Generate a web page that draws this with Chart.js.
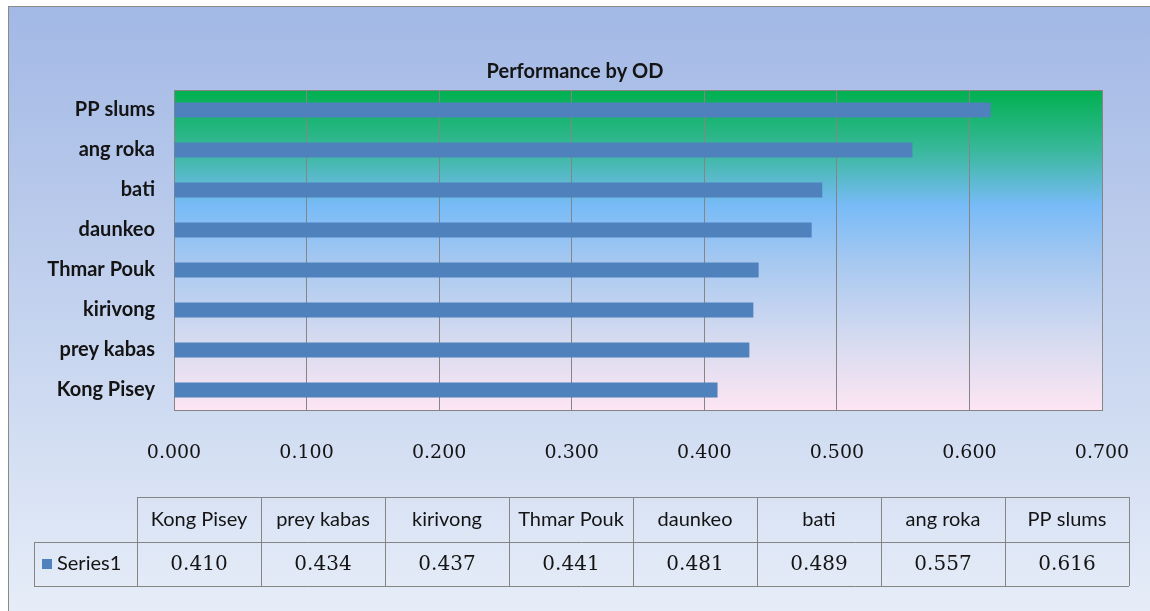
<!DOCTYPE html>
<html lang="en">
<head>
    <meta charset="UTF-8">
    <title>Performance by OD</title>
    <script src="https://cdn.jsdelivr.net/npm/chart.js@4.4.0/dist/chart.umd.min.js"></script>
    <style>
        html, body { margin: 0; padding: 0; background: #ffffff; }
        #wrap { width: 1150px; height: 611px; }
    </style>
</head>
<body>
    <div id="wrap">
        <canvas id="odChart" width="1150" height="611"></canvas>
    </div>

    <script>
        // Operational districts, in data table order (bottom to top on the chart)
        const districts = ['Kong Pisey', 'prey kabas', 'kirivong', 'Thmar Pouk', 'daunkeo', 'bati', 'ang roka', 'PP slums'];
        const series1 = [0.410, 0.434, 0.437, 0.441, 0.481, 0.489, 0.557, 0.616];
        const seriesName = 'Series1';
        const chartTitle = 'Performance by OD';
        const xTicks = [0, 0.1, 0.2, 0.3, 0.4, 0.5, 0.6, 0.7];

        const barColor = '#4f81bd';
        const lineColor = '#858585';
        const textColor = '#141414';
        const labelFont = 'Lato, "Open Sans", sans-serif';
        const numberFont = '"DejaVu Serif", serif';

        // Backgrounds: outer frame gradient and the plot area gradient
        const backgroundPlugin = {
            id: 'backgrounds',
            beforeDraw(chart) {
                const ctx = chart.ctx;
                const a = chart.chartArea;
                ctx.save();
                let g = ctx.createLinearGradient(0, 6, 0, 611);
                g.addColorStop(0, '#a2b8e5');
                g.addColorStop(0.5, '#c3d2ee');
                g.addColorStop(1, '#e6edf8');
                ctx.fillStyle = g;
                ctx.fillRect(8, 6, 1150, 620);
                ctx.strokeStyle = '#8a8a8a';
                ctx.lineWidth = 1;
                ctx.strokeRect(8.5, 6.5, 1150, 620);

                g = ctx.createLinearGradient(0, a.top, 0, a.bottom);
                g.addColorStop(0, '#00b04f');
                g.addColorStop(0.18, '#36b898');
                g.addColorStop(0.36, '#78bbf7');
                g.addColorStop(0.55, '#a9c9f0');
                g.addColorStop(0.8, '#d9dcf0');
                g.addColorStop(1, '#fde5f3');
                ctx.fillStyle = g;
                ctx.fillRect(a.left, a.top, a.right - a.left, a.bottom - a.top);
                ctx.restore();
            },
            beforeDatasetsDraw(chart) {
                const ctx = chart.ctx;
                const a = chart.chartArea;
                ctx.save();
                ctx.strokeStyle = lineColor;
                ctx.lineWidth = 1;
                ctx.strokeRect(a.left + 0.5, a.top + 0.5, a.right - a.left, a.bottom - a.top);
                ctx.restore();
            }
        };

        // Title and the data table under the axis
        const tablePlugin = {
            id: 'dataTable',
            afterDraw(chart) {
                const ctx = chart.ctx;
                ctx.save();
                ctx.fillStyle = textColor;
                ctx.textAlign = 'center';
                ctx.textBaseline = 'middle';
                ctx.font = 'bold 20px ' + labelFont;
                ctx.fillText(chartTitle, 575, 72);

                const left = 34, firstCol = 137, colW = 124;
                const top = 497, mid = 542, bottom = 586;
                const right = firstCol + colW * districts.length;

                ctx.strokeStyle = lineColor;
                ctx.lineWidth = 1;
                ctx.beginPath();
                ctx.moveTo(firstCol, top + 0.5); ctx.lineTo(right, top + 0.5);
                ctx.moveTo(left, mid + 0.5); ctx.lineTo(right, mid + 0.5);
                ctx.moveTo(left, bottom + 0.5); ctx.lineTo(right, bottom + 0.5);
                ctx.moveTo(left + 0.5, mid); ctx.lineTo(left + 0.5, bottom);
                for (let i = 0; i <= districts.length; i++) {
                    const x = firstCol + colW * i + 0.5;
                    ctx.moveTo(x, top); ctx.lineTo(x, bottom);
                }
                ctx.stroke();

                districts.forEach((name, i) => {
                    const cx = firstCol + colW * i + colW / 2;
                    ctx.font = '20px ' + labelFont;
                    ctx.fillText(name, cx, (top + mid) / 2);
                    ctx.font = '20px ' + numberFont;
                    ctx.fillText(series1[i].toFixed(3), cx, (mid + bottom) / 2 + 1);
                });

                // legend key + series name
                ctx.fillStyle = barColor;
                ctx.fillRect(42, 559, 10, 10);
                ctx.fillStyle = textColor;
                ctx.textAlign = 'left';
                ctx.font = '20px ' + labelFont;
                ctx.fillText(seriesName, 57, (mid + bottom) / 2);
                ctx.restore();
            }
        };

        new Chart(document.getElementById('odChart'), {
            type: 'bar',
            data: {
                labels: districts,
                datasets: [{
                    label: seriesName,
                    data: series1,
                    backgroundColor: barColor,
                    borderWidth: 0,
                    categoryPercentage: 1,
                    barPercentage: 0.38
                }]
            },
            options: {
                indexAxis: 'y',
                responsive: false,
                animation: false,
                layout: { padding: { top: 90, right: 48, left: 0, bottom: 0 } },
                plugins: {
                    legend: { display: false },
                    tooltip: { enabled: false }
                },
                scales: {
                    x: {
                        min: 0,
                        max: 0.7,
                        afterBuildTicks(axis) {
                            axis.ticks = xTicks.map(v => ({ value: v }));
                        },
                        afterFit(axis) {
                            axis.height = 201;
                            axis.paddingLeft = 0;
                            axis.paddingRight = 0;
                        },
                        grid: { color: lineColor, lineWidth: 1, drawTicks: false },
                        border: { display: false },
                        ticks: {
                            padding: 32,
                            color: textColor,
                            font: { family: numberFont, size: 19 },
                            callback: v => Number(v).toFixed(3)
                        }
                    },
                    y: {
                        reverse: true,
                        afterFit(axis) {
                            axis.width = 174;
                            axis.paddingTop = 0;
                            axis.paddingBottom = 0;
                        },
                        grid: { display: false, drawTicks: false },
                        border: { display: false },
                        ticks: {
                            padding: 19,
                            color: textColor,
                            font: { family: labelFont, size: 20, weight: 'bold' }
                        }
                    }
                }
            },
            plugins: [backgroundPlugin, tablePlugin]
        });
    </script>
</body>
</html>
